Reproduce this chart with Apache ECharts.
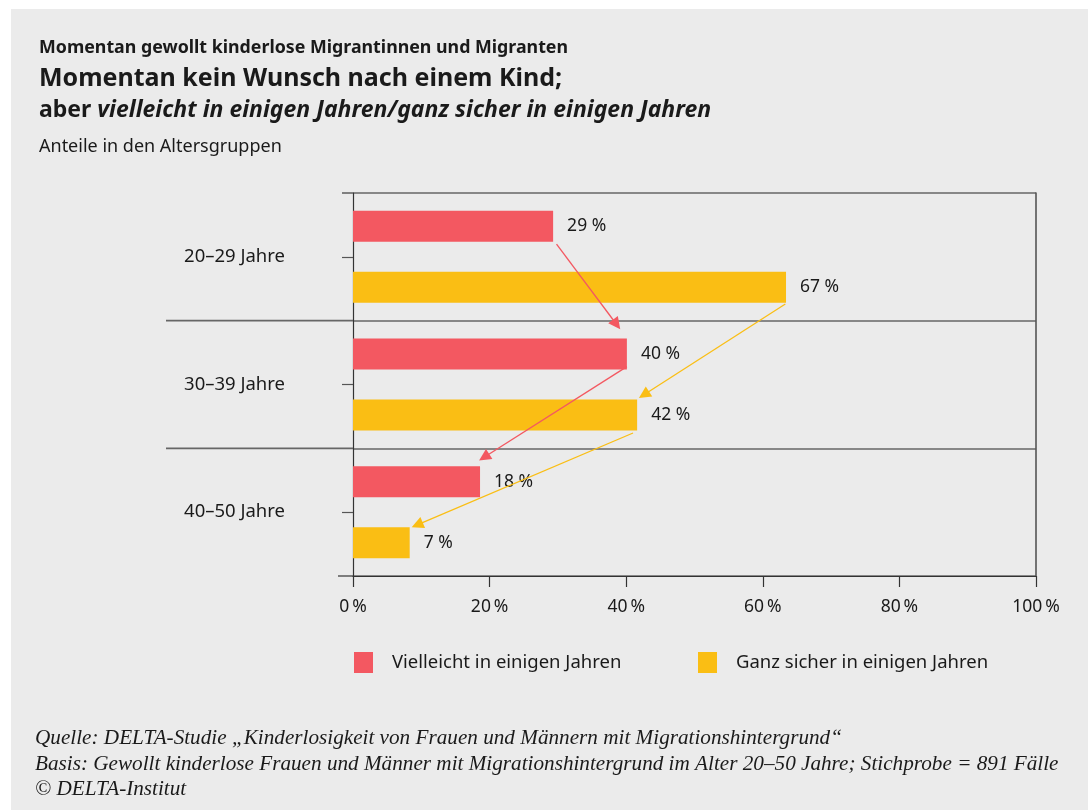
<!DOCTYPE html>
<html>
<head>
<meta charset="utf-8">
<script src="https://cdn.jsdelivr.net/npm/echarts@6/dist/echarts.min.js"></script>
<style>
html,body{margin:0;padding:0;background:#fff;}
#chart{width:1088px;height:810px;background:linear-gradient(#ebebeb,#ebebeb) 11px 9px / 1077px 801px no-repeat, #fff;}
</style>
</head>
<body>
<div id="chart"></div>
<script>
// ---- data ----
const categories = ['20–29 Jahre', '30–39 Jahre', '40–50 Jahre'];
const seriesNames = ['Vielleicht in einigen Jahren', 'Ganz sicher in einigen Jahren'];
// bar lengths as drawn (percent)
const vielleichtValues = [29.3, 40.1, 18.6];
const sicherValues = [63.4, 41.6, 8.3];
// printed value labels
const vielleichtLabels = ['29 %', '40 %', '18 %'];
const sicherLabels = ['67 %', '42 %', '7 %'];
const xTicks = [0, 20, 40, 60, 80, 100];
// arrows between age groups: [percent, age-group position (0 = top of first group, 3 = bottom)]
const vielleichtArrows = [
  [[29.8, 0.40], [38.6, 1.03]],
  [[40.1, 1.36], [19.2, 2.07]]
];
const sicherArrows = [
  [[63.3, 0.87], [42.6, 1.58]],
  [[41.0, 1.88], [9.4, 2.60]]
];

const RED = '#f35861';
const YEL = '#fabe14';
const TXT = '#1a1a1a';
const SANS = '"Noto Sans", sans-serif';
const SERIF = '"Liberation Serif", serif';

const chart = echarts.init(document.getElementById('chart'), null, {renderer: 'canvas'});

const option = {
  backgroundColor: 'transparent',
  animation: false,
  title: [
    {text: 'Momentan gewollt kinderlose Migrantinnen und Migranten', left: 39, top: 39, padding: 0,
     textStyle: {fontFamily: SANS, fontSize: 17.8, fontWeight: 'bold', color: TXT}},
    {text: 'Momentan kein Wunsch nach einem Kind;', left: 39, top: 66, padding: 0,
     textStyle: {fontFamily: SANS, fontSize: 25, fontWeight: 'bold', color: TXT}},
    {text: '{a|aber }{b|vielleicht in einigen Jahren/ganz sicher in einigen Jahren}', left: 39, top: 99, padding: 0,
     textStyle: {fontFamily: SANS, fontSize: 23, fontWeight: 'bold', color: TXT,
       rich: {
         a: {fontFamily: SANS, fontSize: 23, fontWeight: 'bold', color: TXT},
         b: {fontFamily: SANS, fontSize: 23, fontWeight: 'bold', fontStyle: 'italic', color: TXT}
       }}},
    {text: 'Anteile in den Altersgruppen', left: 39, top: 138, padding: 0,
     textStyle: {fontFamily: SANS, fontSize: 18, fontWeight: 'normal', color: TXT}},
    {text: 'Quelle: DELTA-Studie „Kinderlosigkeit von Frauen und Männern mit Migrationshintergrund“\nBasis: Gewollt kinderlose Frauen und Männer mit Migrationshintergrund im Alter 20–50 Jahre; Stichprobe = 891 Fälle\n© DELTA-Institut',
     left: 35, top: 726, padding: 0,
     textStyle: {fontFamily: SERIF, fontSize: 21.2, fontStyle: 'italic', fontWeight: 'normal', color: TXT, lineHeight: 25.5}}
  ],
  legend: [
    {data: [seriesNames[0]], left: 354, top: 652, icon: 'rect', itemWidth: 19, itemHeight: 21, padding: 0,
     textStyle: {fontFamily: SANS, fontSize: 18.5, color: TXT, padding: [0, 0, 0, 14]}},
    {data: [seriesNames[1]], left: 698, top: 652, icon: 'rect', itemWidth: 19, itemHeight: 21, padding: 0,
     textStyle: {fontFamily: SANS, fontSize: 18.5, color: TXT, padding: [0, 0, 0, 14]}}
  ],
  grid: {left: 353, right: 52, top: 193, bottom: 234, containLabel: false},
  xAxis: [{
    type: 'value', min: 0, max: 100, interval: 20,
    axisLine: {show: true, onZero: false, lineStyle: {color: '#333', width: 1.2}},
    axisTick: {show: true, length: 11, lineStyle: {color: '#333', width: 1.2}},
    axisLabel: {margin: 22, fontFamily: SANS, fontSize: 17.5, color: TXT,
      formatter: v => xTicks.indexOf(v) >= 0 ? v + '\u2009%' : ''},
    splitLine: {show: false}
  }],
  yAxis: [{
    type: 'category', data: categories, inverse: true,
    axisLine: {show: true, lineStyle: {color: '#333', width: 1.2}},
    axisTick: {show: true, alignWithLabel: true, length: 11, lineStyle: {color: '#555', width: 1.2}},
    axisLabel: {margin: 68, fontFamily: SANS, fontSize: 18.5, color: TXT},
    splitLine: {show: true, lineStyle: {color: '#666', width: 1.6}}
  }, {
    type: 'value', min: 0, max: 3, inverse: true, position: 'right',
    axisLine: {show: true, onZero: false, lineStyle: {color: '#555', width: 1.6}},
    axisTick: {show: false}, axisLabel: {show: false}, splitLine: {show: false}
  }],
  series: [
    {name: seriesNames[0], type: 'bar', data: vielleichtValues, barWidth: 31, barGap: '97%',
     itemStyle: {color: RED},
     label: {show: true, position: 'right', distance: 14, fontFamily: SANS, fontSize: 17.5, color: TXT,
       formatter: p => vielleichtLabels[p.dataIndex]}},
    {name: seriesNames[1], type: 'bar', data: sicherValues, barWidth: 31, barGap: '97%',
     itemStyle: {color: YEL},
     label: {show: true, position: 'right', distance: 14, fontFamily: SANS, fontSize: 17.5, color: TXT,
       formatter: p => sicherLabels[p.dataIndex]}},
    {type: 'lines', coordinateSystem: 'cartesian2d', xAxisIndex: 0, yAxisIndex: 1, z: 5,
     symbol: ['none', 'triangle'], symbolSize: 12,
     lineStyle: {color: RED, width: 1.3, opacity: 1},
     data: vielleichtArrows.map(a => ({coords: a}))},
    {type: 'lines', coordinateSystem: 'cartesian2d', xAxisIndex: 0, yAxisIndex: 1, z: 5,
     symbol: ['none', 'triangle'], symbolSize: 12,
     lineStyle: {color: YEL, width: 1.3, opacity: 1},
     data: sicherArrows.map(a => ({coords: a}))}
  ]
};
chart.setOption(option);

// frame extensions left of the plot, positioned through the axes
const x0 = chart.convertToPixel({xAxisIndex: 0}, 0);
const yb = i => chart.convertToPixel({yAxisIndex: 1}, i);
const gl = (x1, y, x2, color, w) => ({type: 'line', shape: {x1: x1, y1: y, x2: x2, y2: y}, style: {stroke: color, lineWidth: w}, z: 10});
chart.setOption({graphic: [
  gl(x0 - 11, yb(0), x0, '#666', 1.6),
  gl(166, yb(1), x0, '#666', 1.6),
  gl(166, yb(2), x0, '#666', 1.6),
  gl(x0 - 15, yb(3), x0, '#333', 1.2)
]});
</script>
</body>
</html>
